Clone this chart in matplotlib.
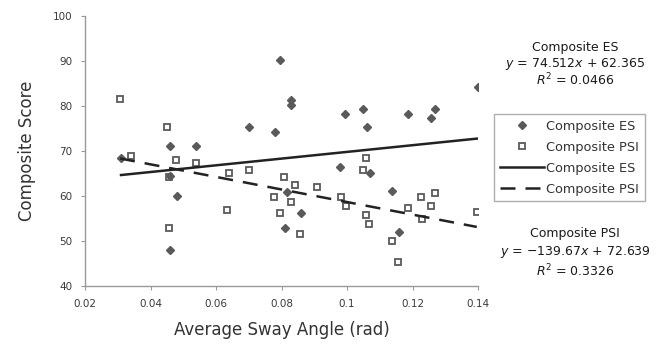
import numpy as np
import matplotlib
matplotlib.use("Agg")
import matplotlib.pyplot as plt
from matplotlib.lines import Line2D

plt.rcParams['font.family'] = ['DejaVu Sans']

# Composite ES (filled markers)
es_x = [0.031, 0.046, 0.054, 0.046, 0.048, 0.046, 0.070, 0.078, 0.0795, 0.083, 0.083,
        0.0816, 0.086, 0.081, 0.098, 0.0995, 0.105, 0.106, 0.107, 0.1187, 0.1136,
        0.116, 0.1269, 0.1256, 0.140]
es_y = [68.4, 71.2, 71.2, 64.5, 60.0, 48.0, 75.3, 74.2, 90.2, 81.3, 80.3,
        61.0, 56.2, 53.0, 66.5, 78.3, 79.3, 75.3, 65.2, 78.2, 61.1,
        52.1, 79.3, 77.3, 84.2]

# Composite PSI (open squares)
psi_x = [0.0307, 0.034, 0.045, 0.0478, 0.0538, 0.0457, 0.0457, 0.0633, 0.064, 0.070,
         0.0809, 0.0841, 0.0777, 0.0828, 0.0795, 0.0857, 0.0908, 0.0982, 0.0997,
         0.1058, 0.105, 0.1226, 0.1267, 0.1256, 0.1187, 0.1228, 0.1396, 0.1058,
         0.1068, 0.1136, 0.1157]
psi_y = [81.5, 68.9, 75.3, 68.0, 67.4, 64.3, 52.8, 57.0, 65.2, 65.9,
         64.3, 62.4, 59.8, 58.6, 56.2, 51.5, 62.0, 59.9, 57.9,
         68.4, 65.9, 59.8, 60.6, 57.8, 57.3, 55.0, 56.4, 55.9,
         53.7, 50.1, 45.3]

# trendline coefficients (slope, intercept) and R^2
es_fit = (74.512, 62.365, 0.0466)
psi_fit = (-139.67, 72.639, 0.3326)

xticks = [0.02, 0.04, 0.06, 0.08, 0.1, 0.12, 0.14]
xticklabels = ['0.02', '0.04', '0.06', '0.08', '0.1', '0.12', '0.14']
yticks = [40, 50, 60, 70, 80, 90, 100]

fig = plt.figure(figsize=(6.64, 3.58), dpi=100)
ax = fig.add_axes([0.128, 0.201, 0.592, 0.754])

mc = '#5a5a5a'
sq = dict(marker='s', ms=4.6, mfc='none', mec=mc, mew=1.3)
dm = dict(marker='D', ms=4.0, mfc=mc, mec=mc)
ax.plot(psi_x, psi_y, ls='none', zorder=3, **sq)
ax.plot(es_x, es_y, ls='none', zorder=3, **dm)

xs = np.array([min(es_x), max(es_x)])
ax.plot(xs, es_fit[0] * xs + es_fit[1], color='#222222', lw=1.8, zorder=4)
xp = np.array([min(psi_x), max(psi_x)])
ax.plot(xp, psi_fit[0] * xp + psi_fit[1], color='#222222', lw=1.8,
        dashes=(6, 4), zorder=4)

ax.set_xlim(0.02, 0.14)
ax.set_ylim(40, 100)
ax.set_xticks(xticks)
ax.set_xticklabels(xticklabels)
ax.set_yticks(yticks)
for s in ['top', 'right']:
    ax.spines[s].set_visible(False)
for s in ['left', 'bottom']:
    ax.spines[s].set_color('#9a9a9a')
    ax.spines[s].set_linewidth(1.0)
ax.tick_params(direction='out', length=3, width=0.8, color='#9a9a9a',
               labelsize=7.5, labelcolor='#3a3a3a', pad=6)
ax.set_xlabel('Average Sway Angle (rad)', fontsize=12, color='#333333', labelpad=9)
ax.set_ylabel('Composite Score', fontsize=12, color='#333333', labelpad=12)

handles = [
    Line2D([], [], ls='none', **dm),
    Line2D([], [], ls='none', **sq),
    Line2D([], [], color='#222222', lw=1.8),
    Line2D([], [], color='#222222', lw=1.8, dashes=(6, 4)),
]
labels = ['Composite ES', 'Composite PSI', 'Composite ES', 'Composite PSI']
leg = fig.legend(handles, labels, loc='upper left', bbox_to_anchor=(0.744, 0.682),
                 fontsize=9.3, frameon=True, fancybox=False, edgecolor='#9a9a9a',
                 handlelength=3.4, handletextpad=0.2, labelspacing=0.62,
                 borderpad=0.45, borderaxespad=0)
leg.get_frame().set_linewidth(1.0)
for t in leg.get_texts():
    t.set_color('#333333')

tx = 575 / 664
kw = dict(ha='center', va='center', fontsize=9, color='#1a1a1a')
fig.text(tx, 1 - 48 / 358, 'Composite ES', **kw)
fig.text(tx, 1 - 64 / 358, '$y$ = %.3f$x$ + %.3f' % (es_fit[0], es_fit[1]), **kw)
fig.text(tx, 1 - 80 / 358, '$R^2$ = %.4f' % es_fit[2], **kw)
fig.text(tx, 1 - 233 / 358, 'Composite PSI', **kw)
fig.text(tx, 1 - 252 / 358, '$y$ = \u2212%.2f$x$ + %.3f' % (-psi_fit[0], psi_fit[1]), **kw)
fig.text(tx, 1 - 271 / 358, '$R^2$ = %.4f' % psi_fit[2], **kw)

fig.savefig('out.png', dpi=100)
